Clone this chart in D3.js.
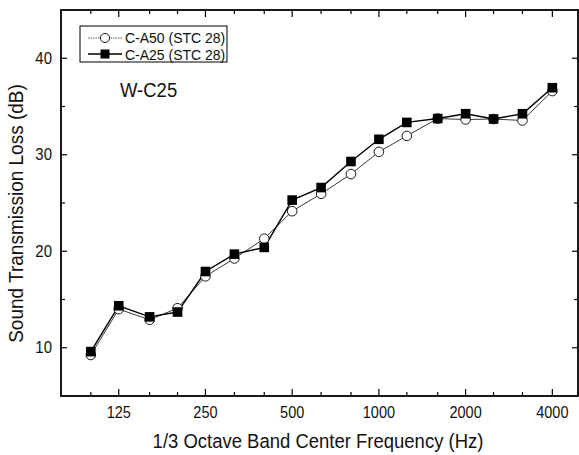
<!DOCTYPE html>
<html>
<head>
<meta charset="utf-8">
<script src="https://cdn.jsdelivr.net/npm/d3@7"></script>
<style>
  body { margin: 0; background: #fff; }
  text { font-family: "Liberation Sans", Arial, sans-serif; fill: #111; }
</style>
</head>
<body>
<div class="draw"></div>
<script>
const width = 579
const height = 455
const margin = {left: 61, right: 1, top: 10, bottom: 59}

// 1/3 octave band centre frequencies (Hz)
const freqs = [100, 125, 160, 200, 250, 315, 400, 500, 630, 800, 1000, 1250, 1600, 2000, 2500, 3150, 4000]
const tickLabels = [125, 250, 500, 1000, 2000, 4000]
// C-A50 (STC 28), open circles
const ca50 = [9.25, 14.0, 12.9, 14.1, 17.4, 19.25, 21.3, 24.15, 25.95, 28.0, 30.3, 31.95, 33.75, 33.65, 33.7, 33.55, 36.6]
// C-A25 (STC 28), filled squares
const ca25 = [9.6, 14.35, 13.2, 13.7, 17.9, 19.7, 20.4, 25.3, 26.6, 29.3, 31.6, 33.35, 33.75, 34.25, 33.7, 34.25, 36.95]

let svg = d3.select("div.draw")
    .append("svg")
    .attr("width", width)
    .attr("height", height)

let x = d3.scaleLog()
    .domain([78.8, 4910])
    .range([margin.left, width - margin.right])

let y = d3.scaleLinear()
    .domain([5, 45])
    .range([height - margin.bottom, margin.top])

let x0 = margin.left, x1 = width - margin.right
let y0 = height - margin.bottom, y1 = margin.top

// ticks, all pointing inward
function majorX(f){ return tickLabels.indexOf(f) >= 0 }
let ticks = svg.append("g").attr("stroke", "#000").attr("stroke-width", 1.2)
freqs.forEach(function(f){
  let len = majorX(f) ? 7 : 4
  ticks.append("line").attr("x1", x(f)).attr("x2", x(f)).attr("y1", y0).attr("y2", y0 - len)
  ticks.append("line").attr("x1", x(f)).attr("x2", x(f)).attr("y1", y1).attr("y2", y1 + len)
})
d3.range(10, 45, 5).forEach(function(v){
  let len = v % 10 === 0 ? 6 : 4
  ticks.append("line").attr("x1", x0).attr("x2", x0 + len).attr("y1", y(v)).attr("y2", y(v))
  ticks.append("line").attr("x1", x1).attr("x2", x1 - len).attr("y1", y(v)).attr("y2", y(v))
})

// frame
svg.append("rect")
    .attr("x", x0).attr("y", y1)
    .attr("width", x1 - x0).attr("height", y0 - y1)
    .attr("fill", "none")
    .attr("stroke", "#000")
    .attr("stroke-width", 1.8)

// tick labels (the scan is a little taller than wide, hence the scale)
svg.selectAll("text.xt")
    .data(tickLabels)
    .enter()
    .append("text")
    .attr("class", "xt")
    .attr("transform", (d) => "translate(" + x(d) + ",418) scale(1,1.12)")
    .attr("text-anchor", "middle")
    .style("font-size", "14.5px")
    .text((d) => d)

svg.selectAll("text.yt")
    .data([10, 20, 30, 40])
    .enter()
    .append("text")
    .attr("class", "yt")
    .attr("transform", (d) => "translate(52," + (y(d) + 5.5) + ") scale(1,1.12)")
    .attr("text-anchor", "end")
    .style("font-size", "15px")
    .text((d) => d)

// axis titles
svg.append("text")
    .attr("transform", "translate(318,448) scale(1,1.12)")
    .attr("text-anchor", "middle")
    .style("font-size", "18.5px")
    .text("1/3 Octave Band Center Frequency (Hz)")

svg.append("text")
    .attr("transform", "translate(23,213.5) rotate(-90) scale(1,1.1)")
    .attr("text-anchor", "middle")
    .style("font-size", "19px")
    .text("Sound Transmission Loss (dB)")

svg.append("text")
    .attr("transform", "translate(120,97) scale(1,1.12)")
    .style("font-size", "18.5px")
    .text("W-C25")

// series
let line = d3.line()
    .x((d) => x(d[0]))
    .y((d) => y(d[1]))

let open = freqs.map((f, i) => [f, ca50[i]])
let filled = freqs.map((f, i) => [f, ca25[i]])

svg.append("path")
    .attr("d", line(open))
    .attr("fill", "none")
    .attr("stroke", "#222")
    .attr("stroke-width", 0.9)

svg.append("path")
    .attr("d", line(filled))
    .attr("fill", "none")
    .attr("stroke", "#000")
    .attr("stroke-width", 1.4)

svg.selectAll("circle.ca50")
    .data(open)
    .enter()
    .append("circle")
    .attr("class", "ca50")
    .attr("cx", (d) => x(d[0]))
    .attr("cy", (d) => y(d[1]))
    .attr("r", 4.8)
    .attr("fill", "#fff")
    .attr("stroke", "#000")
    .attr("stroke-width", 0.9)

svg.selectAll("rect.ca25")
    .data(filled)
    .enter()
    .append("rect")
    .attr("class", "ca25")
    .attr("x", (d) => x(d[0]) - 4.8)
    .attr("y", (d) => y(d[1]) - 4.8)
    .attr("width", 9.6)
    .attr("height", 9.6)
    .attr("fill", "#000")

// legend
let legend = svg.append("g")
legend.append("rect")
    .attr("x", 80).attr("y", 26)
    .attr("width", 147).attr("height", 36)
    .attr("fill", "#fff")
    .attr("stroke", "#000")
    .attr("stroke-width", 1)

legend.append("line")
    .attr("x1", 88).attr("x2", 122).attr("y1", 38).attr("y2", 38)
    .attr("stroke", "#444").attr("stroke-width", 0.9).attr("stroke-dasharray", "1.5,1")
legend.append("circle")
    .attr("cx", 105).attr("cy", 38).attr("r", 4.6)
    .attr("fill", "#fff").attr("stroke", "#000").attr("stroke-width", 0.9)
legend.append("text")
    .attr("transform", "translate(125,43) scale(1,1.1)")
    .style("font-size", "14px")
    .text("C-A50 (STC 28)")

legend.append("line")
    .attr("x1", 88).attr("x2", 122).attr("y1", 54).attr("y2", 54)
    .attr("stroke", "#000").attr("stroke-width", 1.4)
legend.append("rect")
    .attr("x", 100.5).attr("y", 49.5).attr("width", 9).attr("height", 9)
    .attr("fill", "#000")
legend.append("text")
    .attr("transform", "translate(125,59.5) scale(1,1.1)")
    .style("font-size", "14px")
    .text("C-A25 (STC 28)")
</script>
</body>
</html>
